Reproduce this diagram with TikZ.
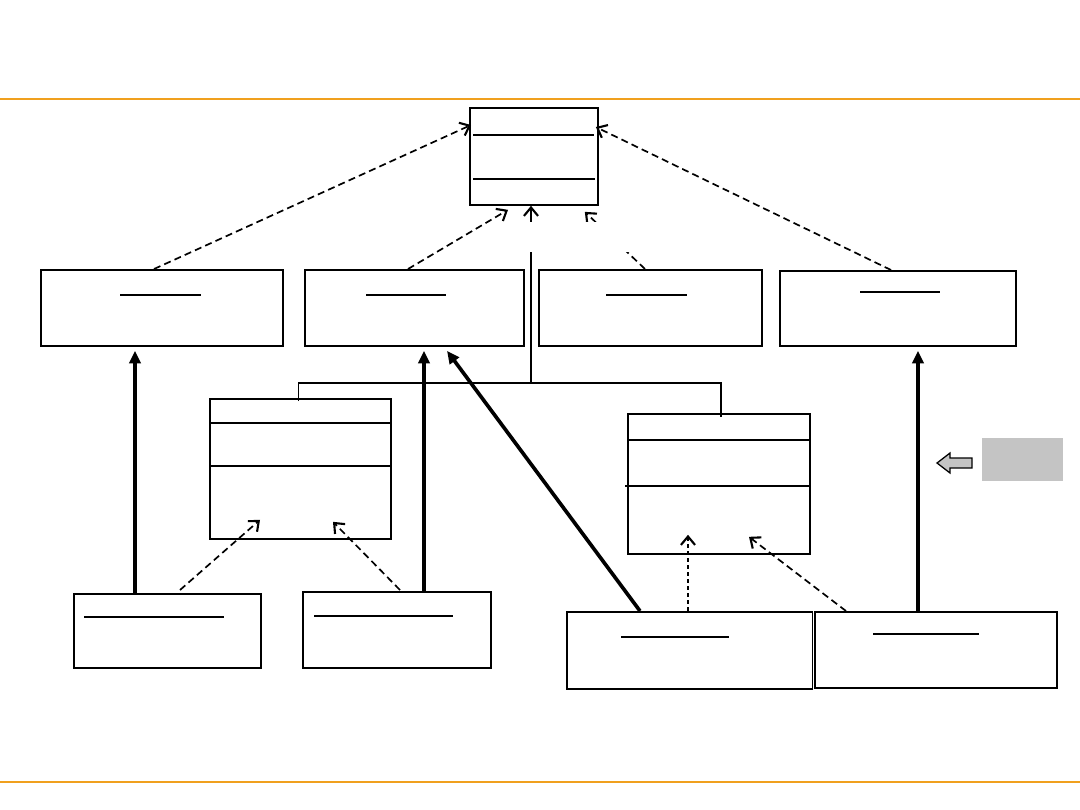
\documentclass[tikz,border=0pt]{standalone}
\usepackage{tikz}
\usetikzlibrary{arrows.meta,calc,positioning}

\definecolor{rulecol}{RGB}{240,160,30}
\definecolor{padgray}{RGB}{196,196,196}

\tikzset{
  cls/.style 2 args={draw,line width=1.3pt,inner sep=0pt,anchor=north west,
    minimum width=#1*0.025cm,minimum height=#2*0.025cm},
  realize/.style={line width=1.2pt,dash pattern=on 5pt off 3pt,
    -{Straight Barb[length=6pt,width=10pt,line width=1.5pt]}},
  inherit/.style={line width=2.6pt,-{Triangle[length=9pt,width=8pt]}},
  sepline/.style={line width=0.9pt}
}

\begin{document}
\begin{tikzpicture}[x=0.025cm,y=-0.025cm]
\useasboundingbox (0,0) rectangle (1080,810);

% Page rules
\draw[rulecol,line width=1.4pt] (0,99) -- (1080,99);
\draw[rulecol,line width=1.4pt] (0,782) -- (1080,782);

% Interface on top
\node[cls={128}{97}] (top) at (469,107) {};
\draw[sepline] ($(top.north west)+(4,28)$) -- ($(top.north east)+(-5,28)$);
\draw[sepline] ($(top.north west)+(4,72)$) -- ($(top.north east)+(-4,72)$);

% Second row
\node[cls={242}{76}] (ca) at (40,269) {};
\node[cls={219}{76}] (cb) at (304,269) {};
\node[cls={223}{76}] (cc) at (538,269) {};
\node[cls={236}{75}] (cd) at (779,270) {};

% Middle classes
\node[cls={181}{140}] (ml) at (209,398) {};
\draw[sepline] ($(ml.north west)+(0,25)$) -- ($(ml.north east)+(0,25)$);
\draw[sepline] ($(ml.north west)+(0,68)$) -- ($(ml.north east)+(0,68)$);
\node[cls={182}{140}] (mr) at (627,413) {};
\draw[sepline] ($(mr.north west)+(0,27)$) -- ($(mr.north east)+(0,27)$);
\draw[sepline] ($(mr.north west)+(-2,73)$) -- ($(mr.north east)+(0,73)$);

% Bottom row
\node[cls={187}{74}] (ea) at (73,593) {};
\node[cls={188}{76}] (eb) at (302,591) {};
\node[cls={245.5}{77}] (ec) at (566,611) {};
\node[cls={242}{76}] (ed) at (814,611) {};

% Name underlines
\foreach \n/\a/\b/\d in {ca/80/161/26, cb/62/142/26, cc/68/149/26, cd/81/161/22,
    ea/11/151/24, eb/12/151/25, ec/55/163/26, ed/59/165/23}
  \draw[sepline] ($(\n.north west)+(\a,\d)$) -- ($(\n.north west)+(\b,\d)$);

% Realizations of the interface
\draw[realize] ($(ca.north west)+(114,0)$) -- ($(top.north west)+(2,18)$);
\draw[realize] ($(cb.north west)+(104,0)$) -- ($(top.south west)+(39,4)$);
\draw[realize] ($(cc.north west)+(107,0)$) -- ($(top.south east)+(-14,6)$);
\draw[realize] ($(cd.north west)+(112,0)$) -- ($(top.north east)+(-3,20)$);

% Tree to the middle classes
\coordinate (fork) at (531,383);
\draw[line width=1.3pt,-{Straight Barb[length=6pt,width=10pt,line width=1.5pt]}]
  (fork) -- (top.south -| fork);
\draw[line width=1.3pt] ($(ml.north)+(-2,3)$) |- (fork) -| ($(mr.north)+(2,4)$);
\fill[white] (516,222) rectangle (634,252);

% Inheritance
\draw[inherit] ($(ea.north west)+(62,0)$) -- ($(ca.south west)+(95,4)$);
\draw[inherit] ($(eb.north west)+(122,0)$) -- ($(cb.south west)+(120,4)$);
\draw[inherit] ($(ec.north west)+(74,0)$) -- ($(cb.south west)+(143,4)$);
\draw[inherit] ($(ed.north west)+(104,0)$) -- ($(cd.south west)+(139,4)$);

% Dependencies on the middle classes
\draw[realize] ($(ea.north west)+(107,-3)$) -- ($(ml.south west)+(51,-20)$);
\draw[realize] ($(eb.north west)+(98,-1)$) -- ($(ml.south west)+(124,-18)$);
\draw[realize,line width=0.8pt,dash pattern=on 3pt off 2pt] ($(ec.north west)+(122,0)$) -- ($(mr.south west)+(61,-20)$);
\draw[realize] ($(ed.north west)+(32,0)$) -- ($(mr.south west)+(122,-18)$);

% Side marker
\fill[padgray] (982,438) rectangle (1063,481);
\draw[fill=padgray,line width=0.9pt] (972,458) -- (950,458) -- (950,453) -- (937,463)
  -- (950,473) -- (950,468) -- (972,468) -- cycle;
\end{tikzpicture}
\end{document}
